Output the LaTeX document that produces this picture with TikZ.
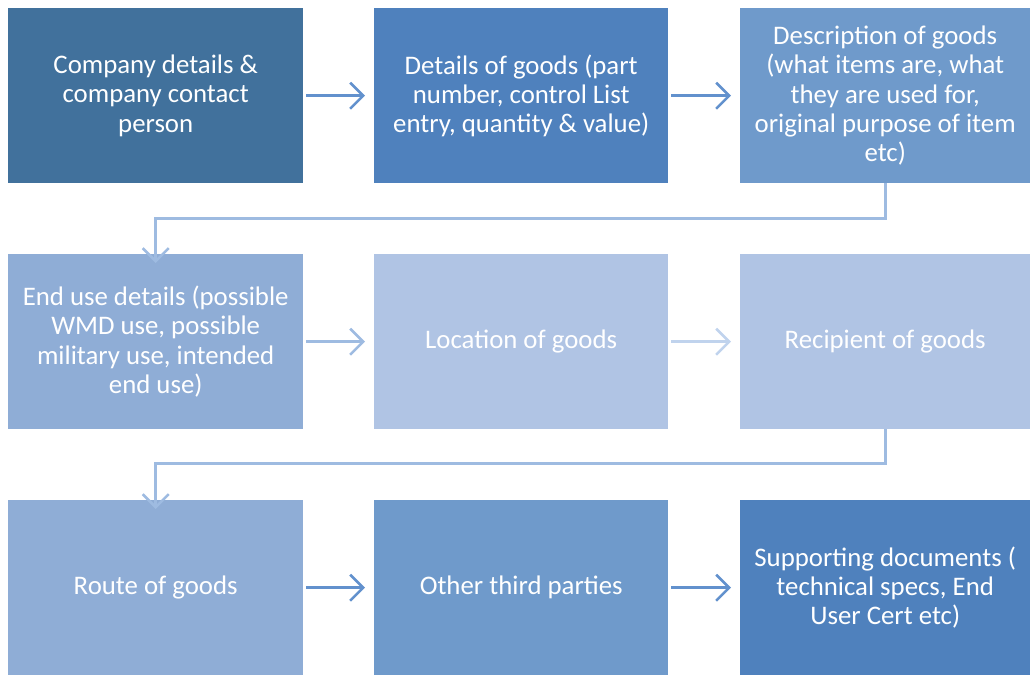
\documentclass[tikz,border=0pt]{standalone}
\usepackage{fontspec}
\setmainfont{Carlito}
\usetikzlibrary{arrows.meta}
\definecolor{cA}{RGB}{65,113,156}
\definecolor{cB}{RGB}{79,129,189}
\definecolor{cC}{RGB}{111,154,203}
\definecolor{cD}{RGB}{143,173,214}
\definecolor{cE}{RGB}{176,196,228}
\definecolor{aM}{RGB}{98,145,205}
\definecolor{aL}{RGB}{158,187,225}
\definecolor{aX}{RGB}{192,211,237}
\tikzset{
  box/.style={minimum width=#1pt, minimum height=175pt, inner sep=0pt, anchor=north west, text=white, align=center, font=\fontsize{26.8}{29.3}\selectfont},
  flow/.style={draw=#1, line width=2.6pt, -{Straight Barb[length=13pt,width=26pt,line width=2.6pt]}},
}
\begin{document}
\begin{tikzpicture}[x=1pt,y=-1pt]
\useasboundingbox (0,0) rectangle (1030,675);
\node[box=295, fill=cA] (b1) at (8,8) {Company details \&\\company contact\\person};
\node[box=294, fill=cB] (b2) at (374,8) {Details of goods (part\\number, control List\\entry, quantity \& value)};
\node[box=290, fill=cC] (b3) at (740,8) {Description of goods\\(what items are, what\\they are used for,\\original purpose of item\\etc)};
\node[box=295, fill=cD] (b4) at (8,254) {End use details (possible\\WMD use, possible\\military use, intended\\end use)};
\node[box=294, fill=cE] (b5) at (374,254) {Location of goods};
\node[box=290, fill=cE] (b6) at (740,254) {Recipient of goods};
\node[box=295, fill=cD] (b7) at (8,500) {Route of goods};
\node[box=294, fill=cC] (b8) at (374,500) {Other third parties};
\node[box=290, fill=cB] (b9) at (740,500) {Supporting documents (\\technical specs, End\\User Cert etc)};
\draw[flow=aM] ([xshift=3pt]b1.east) -- ([xshift=-9pt]b2.west);
\draw[flow=aM] ([xshift=3pt]b2.east) -- ([xshift=-9pt]b3.west);
\draw[flow=aL] ([xshift=3pt]b4.east) -- ([xshift=-9pt]b5.west);
\draw[flow=aX] ([xshift=3pt]b5.east) -- ([xshift=-9pt]b6.west);
\draw[flow=aM] ([xshift=3pt]b7.east) -- ([xshift=-9pt]b8.west);
\draw[flow=aM] ([xshift=3pt]b8.east) -- ([xshift=-9pt]b9.west);
\draw[flow=aL] (b3.south) -- ++(0,35) -| ([yshift=-9pt]b4.north);
\draw[flow=aL] (b6.south) -- ++(0,34) -| ([yshift=-9pt]b7.north);
\end{tikzpicture}
\end{document}
